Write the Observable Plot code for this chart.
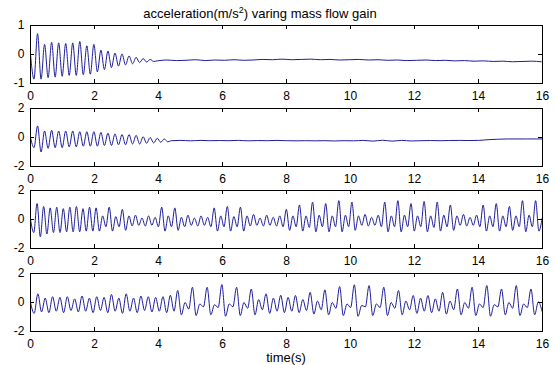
<!DOCTYPE html>
<html><head><meta charset="utf-8">
<script src="https://cdn.jsdelivr.net/npm/d3@7"></script>
<script src="https://cdn.jsdelivr.net/npm/@observablehq/plot@0.6"></script>
<style>
body{margin:0;background:#fff;}
#wrap{position:relative;width:555px;height:365px;background:#fff;font-family:"Liberation Sans",Arial,sans-serif;color:#000;}
.t{position:absolute;text-align:center;font-size:13px;line-height:15px;white-space:nowrap;}
.t sup{font-size:9px;line-height:0;vertical-align:0;position:relative;top:-5px;}
</style></head><body>
<div id="wrap">
<div class="t" id="title" style="top:6px;left:0;width:520px">acceleration(m/s<sup>2</sup>) varing mass flow gain</div>
<div class="t" id="xlab" style="top:350px;left:30px;width:512px">time(s)</div>
</div>
<script>
// ---- data ----
const xTicks = [0, 2, 4, 6, 8, 10, 12, 14, 16];
const yTicks1 = [-1, 0, 1];
const yTicks2 = [-2, 0, 2];

// panel 1: decaying oscillation (sample step 0.11 s), then settled tail (step 0.3 s)
const dt1 = 0.11, tailStep1 = 0.3;
const p1Osc = [0.0, -0.85, 0.72, -0.85, 0.35, -0.8, 0.42, -0.78, 0.4, -0.75,
  0.38, -0.72, 0.4, -0.72, 0.45, -0.7, 0.3, -0.68, 0.35, -0.6,
  0.15, -0.52, 0.12, -0.45, 0.05, -0.4, 0.02, -0.36, -0.05, -0.32,
  -0.1, -0.28, -0.14, -0.26, -0.17, -0.24];
const p1Tail = [-0.22, -0.19, -0.21, -0.2, -0.18, -0.21, -0.19, -0.2, -0.18, -0.2,
  -0.19, -0.17, -0.18, -0.16, -0.18, -0.17, -0.16, -0.18, -0.17, -0.19,
  -0.18, -0.17, -0.19, -0.18, -0.2, -0.19, -0.21, -0.2, -0.19, -0.21,
  -0.2, -0.22, -0.21, -0.23, -0.22, -0.24, -0.23, -0.25, -0.24, -0.23, -0.25];

// panel 2
const dt2 = 0.11, tailStep2 = 0.3;
const p2Osc = [0.0, -0.7, 0.8, -1.0, 0.45, -0.75, 0.5, -0.7, 0.45, -0.7,
  0.45, -0.65, 0.45, -0.65, 0.4, -0.6, 0.4, -0.6, 0.4, -0.6,
  0.35, -0.55, 0.3, -0.55, 0.25, -0.5, 0.2, -0.5, 0.2, -0.45,
  0.15, -0.45, 0.05, -0.4, 0.0, -0.38, -0.05, -0.33, -0.1, -0.3];
const p2Tail = [-0.22, -0.2, -0.23, -0.2, -0.22, -0.21, -0.22, -0.2, -0.23, -0.21,
  -0.22, -0.2, -0.22, -0.23, -0.22, -0.23, -0.22, -0.24, -0.22, -0.23,
  -0.2, -0.25, -0.19, -0.25, -0.2, -0.24, -0.22, -0.21, -0.22, -0.21,
  -0.2, -0.21, -0.2, -0.15, -0.12, -0.1, -0.1, -0.1, -0.1, -0.1];

// panel 3 (sample step 0.1025 s)
const dt3 = 0.1025;
const p3 = [0, -0.9, 1.1, -1.2, 0.9, -1.0, 0.8, -0.9, 0.85, -0.9,
  0.75, -0.85, 0.85, -0.85, 0.9, -0.85, 0.75, -0.8, 0.85, -0.8,
  0.8, -0.8, 0.25, -0.5, 0.85, -0.8, 0.2, -0.5, 0.7, -0.75, 0.25, -0.45,
  0.3, -0.4, 0.1, -0.45, 0.25, -0.4, 0.15, -0.5,
  0.85, -0.8, 0.25, -0.5, 0.8, -0.75, 0.15, -0.5,
  0.3, -0.4, 0.1, -0.45, 0.25, -0.4, 0.15, -0.5,
  0.8, -0.8, 0.25, -0.5, 0.9, -0.8, 0.2, -0.5, 0.85, -0.8, 0.25, -0.45,
  0.35, -0.4, 0.1, -0.45, 0.3, -0.4, 0.15, -0.45, 0.25, -0.5,
  0.7, -0.75, 0.25, -0.5, 1.0, -0.8, 0.25, -0.55, 1.2, -0.85, 0.3, -0.5, 1.1, -0.85, 0.25, -0.5, 1.3, -0.85, 0.3, -0.5, 1.2, -0.75,
  0.25, -0.4, 0.35, -0.45, 0.15, -0.4, 0.3, -0.5,
  1.2, -0.85, 0.25, -0.5, 1.3, -0.85, 0.3, -0.5, 1.1, -0.8, 0.25, -0.5, 1.25, -0.85, 0.25, -0.55, 1.2, -0.8, 0.3, -0.5, 1.0, -0.75,
  0.25, -0.4, 0.35, -0.45, 0.15, -0.4, 0.3, -0.5,
  1.0, -0.8, 0.25, -0.5, 1.1, -0.8, 0.25, -0.5, 0.9, -0.75, 0.25, -0.5, 1.3, -0.85, 0.3, -0.5, 1.3, -0.8, 0.1];

// panel 4 (sample step 0.115 s)
const dt4 = 0.115;
const p4 = [0.0, -0.75, 0.6, -0.65, 0.3, -0.7, 0.4, -0.6, 0.35, -0.7,
  0.4, -0.55, 0.25, -0.65, 0.45, -0.6, 0.3, -0.7, 0.4, -0.55,
  0.35, -0.7, 0.55, -0.6, 0.3, -0.75, 0.6, -0.6, 0.3, -0.7,
  0.45, -0.55, 0.4, -0.65, 0.35, -0.6, 0.4, -0.7, 0.5, -0.6,
  0.83, -0.85, 0.0, -0.45,  1.05, -0.9, -0.1, -0.3,  1.05, -0.85, -0.15, -0.35,
  1.24, -0.95, -0.1, -0.3,  1.05, -0.9, 0.0, -0.4,  0.93, -0.85, 0.2, -0.5,
  0.6, -0.75, 0.3, -0.6,  0.5, -0.7, 0.35, -0.6,  0.48, -0.7, 0.2, -0.55,
  0.7, -0.8, 0.1, -0.5,  0.87, -0.85, 0.0, -0.4,  1.1, -0.9, -0.1, -0.35,
  1.22, -0.95, -0.2, -0.3,  1.17, -0.9, -0.1, -0.35,  1.05, -0.9, 0.0, -0.4,
  0.83, -0.85, 0.1, -0.5,  0.48, -0.75, 0.3, -0.6,  0.48, -0.7, 0.25, -0.6,
  0.7, -0.8, 0.1, -0.5,  0.93, -0.85, 0.0, -0.4,  1.05, -0.9, -0.1, -0.35,
  1.17, -0.95, -0.15, -0.3,  0.93, -0.85, 0.0, -0.4,  1.17, -0.9, -0.1, -0.35,
  0.93, -0.85, 0.05, -0.6];

// ---- build series tables ----
function seq(values, dt, start = 0) { return values.map((v, i) => ({t: start + i * dt, v})); }
const s1 = seq(p1Osc, dt1).concat(seq(p1Tail, tailStep1, p1Osc.length * dt1));
const s2 = seq(p2Osc, dt2).concat(seq(p2Tail, tailStep2, p2Osc.length * dt2));
const s3 = seq(p3, dt3);
const s4 = seq(p4, dt4);

const wrap = document.getElementById("wrap");
const H = 58, MT = 6, MB = 20, ML = 30, MR = 13, W = 555;
const innerW = W - ML - MR;
function panel(data, yDomain, yTicks, top) {
  const chart = Plot.plot({
    width: W, height: H + MT + MB,
    marginTop: MT, marginBottom: MB, marginLeft: ML, marginRight: MR,
    style: {background: "transparent", fontFamily: "Liberation Sans, Arial, sans-serif", fontSize: "12px", color: "#000", overflow: "visible"},
    x: {domain: [0, 16], ticks: xTicks, tickSize: 0, tickPadding: 8, label: null, tickFormat: d => String(d)},
    y: {domain: yDomain, ticks: yTicks, tickSize: 0, tickPadding: 6, label: null, tickFormat: d => String(d)},
    marks: [
      Plot.line(data, {x: "t", y: "v", stroke: "#1d1d9a", strokeWidth: 1, curve: "monotone-x", clip: true}),
      Plot.frame({stroke: "#000", strokeWidth: 1}),
      Plot.tickX(xTicks, {x: d => d, insetTop: H - 4, stroke: "#000"}),
      Plot.tickX(xTicks, {x: d => d, insetBottom: H - 4, stroke: "#000"}),
      Plot.tickY(yTicks, {y: d => d, insetRight: innerW - 4, stroke: "#000"}),
      Plot.tickY(yTicks, {y: d => d, insetLeft: innerW - 4, stroke: "#000"})
    ]
  });
  chart.style.position = "absolute";
  chart.style.left = "0px";
  chart.style.top = (top - MT) + "px";
  wrap.appendChild(chart);
}
panel(s1, [-1, 1], yTicks1, 25);
panel(s2, [-2, 2], yTicks2, 108);
panel(s3, [-2, 2], yTicks2, 190);
panel(s4, [-2, 2], yTicks2, 273);
</script>
</body></html>
